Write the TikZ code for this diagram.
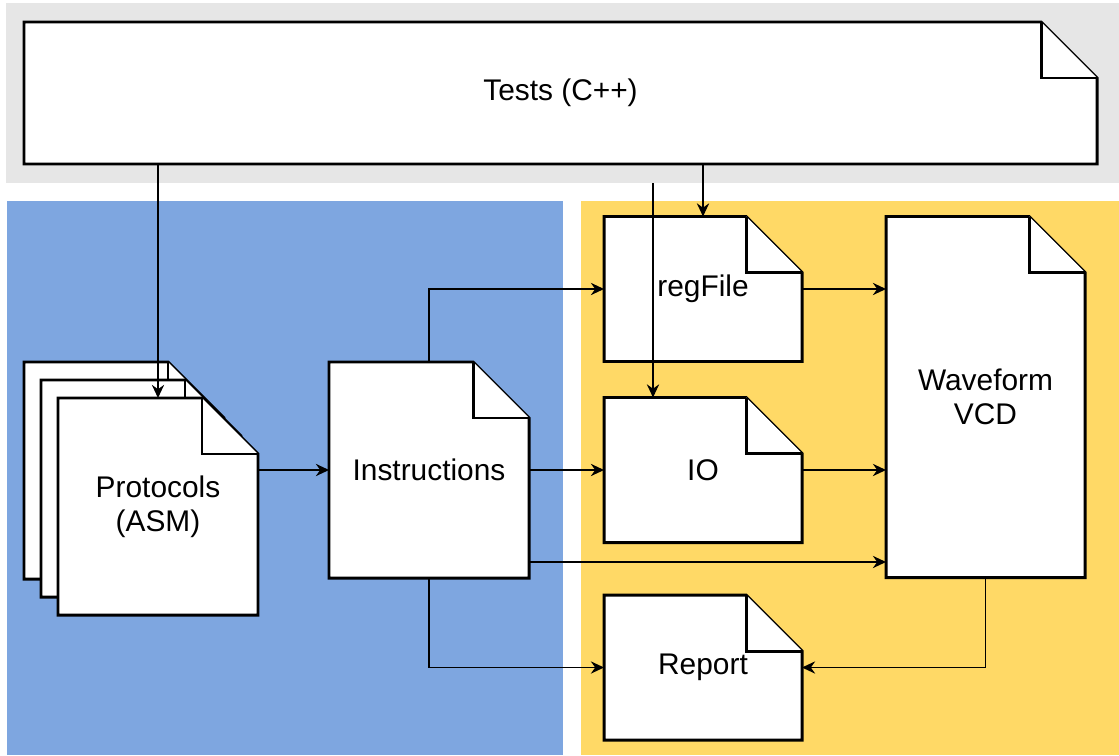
\documentclass[tikz,border=0pt]{standalone}
\usepackage{fontspec}
\setmainfont{Liberation Sans}
\usetikzlibrary{positioning,calc,arrows.meta,backgrounds}

\definecolor{bandgray}{RGB}{230,230,230}
\definecolor{asmblue}{RGB}{126,166,224}
\definecolor{simyellow}{RGB}{255,217,102}

\newcommand\fold{1.12cm}
% folded sheet behind a node, #1 = offset
\newcommand\foldpage[2][0,0]{%
  \filldraw[page] ($(#2.south west)+(#1)$) -- ($(#2.north west)+(#1)$)
    -- ($(#2.north east)+(#1)+(-\fold,0)$) -- ($(#2.north east)+(#1)+(0,-\fold)$)
    -- ($(#2.south east)+(#1)$) -- cycle;
  \draw[page] ($(#2.north east)+(#1)+(-\fold,0)$) -- ++(0,-\fold) -- ++(\fold,0);}

\begin{document}
\begin{tikzpicture}
[every node/.style={inner sep=0mm,outer sep=0mm,font=\fontsize{17}{19.5}\selectfont,align=center},
 doc/.style={rectangle,minimum width=4cm,minimum height=4.32cm},
 smalldoc/.style={rectangle,minimum width=3.96cm,minimum height=2.9cm},
 page/.style={draw=black,fill=white,line width=1.7pt},
 conn/.style={line width=0.85pt,-{Stealth[length=7.5pt,width=7pt,inset=2.5pt]}}]
\useasboundingbox (0,0) rectangle (22.38,-15.1);

\node[rectangle,minimum width=21.46cm,minimum height=2.84cm] (tests) at (11.21,-1.86) {Tests (C++)};
\node[doc] (instr) at (8.58,-9.4) {Instructions};
\node[doc,minimum height=4.34cm] (proto) [on grid,below left=0.73cm and 5.42cm of instr] {Protocols\\(ASM)};
\node[smalldoc] (io)      [on grid,right=5.48cm of instr] {IO};
\node[smalldoc] (regfile) [on grid,above=3.62cm of io]    {regFile};
\node[smalldoc] (report)  [on grid,below=3.95cm of io]    {Report};
\node[doc,minimum width=3.98cm,minimum height=7.22cm] (wave) [on grid,above right=1.46cm and 5.65cm of io] {Waveform\\VCD};

\begin{pgfonlayer}{background}
\fill[bandgray] (0.12,-0.06) rectangle (22.38,-3.66);
\fill[asmblue] (0.14,-4.02) rectangle (11.26,-15.1);
\fill[simyellow] (11.62,-4.02) rectangle (22.38,-15.1);
\foldpage{tests}
\foldpage[-0.68,0.72]{proto}
\foldpage[-0.34,0.36]{proto}
\foldpage{proto}
\foldpage{instr}
\foldpage{regfile}
\foldpage{io}
\foldpage{report}
\foldpage{wave}
\end{pgfonlayer}

\coordinate (bandbottom) at (0,-3.66);
\coordinate (ioin) at ($(io.north)+(-1cm,0)$);
\coordinate (instrlow) at ($(instr.south east)+(0,0.32)$);

\draw[conn] (proto.north |- tests.south) -- (proto.north);
\draw[conn] (regfile.north |- tests.south) -- (regfile.north);
\draw[conn] (ioin |- bandbottom) -- (ioin);
\draw[conn] (proto.east |- instr.west) -- (instr.west);
\draw[conn] (instr.north) |- (regfile.west);
\draw[conn] (instr.east) -- (io.west);
\draw[conn] (instrlow) -- (instrlow -| wave.west);
\draw[conn] (instr.south) |- (report.west);
\draw[conn] (regfile.east) -- (regfile.east -| wave.west);
\draw[conn] (io.east) -- (io.east -| wave.west);
\draw[conn] (wave.south) |- (report.east);
\end{tikzpicture}
\end{document}
